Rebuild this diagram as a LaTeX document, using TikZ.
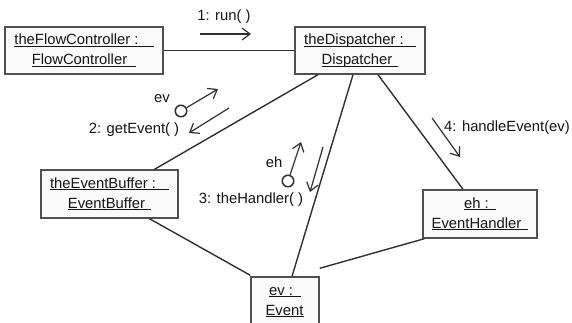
\documentclass[tikz,border=0pt]{standalone}
\usepackage{fontspec}
\setmainfont{Liberation Sans}
\usetikzlibrary{arrows.meta}
\definecolor{linegray}{HTML}{303030}
\definecolor{boxline}{HTML}{505050}
\definecolor{boxfill}{HTML}{FAFAFA}
\definecolor{inkgray}{HTML}{151515}
% object name, underlined at the baseline with a trailing run of the given length
\newcommand\objline[2][7pt]{\underline{\smash{#2}\vphantom{T}\hspace{#1}}}
\begin{document}
\begin{tikzpicture}[x=1pt,y=-1pt,
  obj/.style={draw=boxline, fill=boxfill, line width=1.4pt, inner sep=0pt,
    align=center, text=inkgray, font=\fontsize{14.8}{20}\selectfont},
  link/.style={draw=linegray, line width=1.4pt},
  msg/.style={draw=linegray, line width=1.2pt, -{Straight Barb[length=8pt,width=12pt]}},
  lbl/.style={text=inkgray, font=\fontsize{14.8}{16}\selectfont, inner sep=0pt},
  port/.style={circle, draw=linegray, line width=1.5pt, minimum size=11.5pt, inner sep=0pt}]
\clip (0,0) rectangle (572,322);
\fill[white] (0,0) rectangle (572,322);

% objects
\node[obj, minimum width=158pt, minimum height=47pt] (flow) at (84,50.5)
  {\objline[15pt]{theFlowController :}\\\objline[9pt]{FlowController}};
\node[obj, minimum width=130pt, minimum height=47pt] (disp) at (360,50.5)
  {\objline[12pt]{theDispatcher :}\\\objline[6pt]{Dispatcher}};
\node[obj, minimum width=137pt, minimum height=48pt] (buf) at (109.5,194)
  {\objline[13pt]{theEventBuffer :}\\\objline[6pt]{EventBuffer}};
\node[obj, minimum width=114pt, minimum height=48pt] (hand) at (480,214)
  {\objline[7pt]{eh :}\\\objline[7pt]{EventHandler}};
\node[obj, minimum width=68pt, minimum height=48pt] (ev) at (285,301)
  {\objline[8pt]{ev :}\\\objline[1pt]{Event}};

% links
\draw[link] (flow.east) -- (disp.west |- flow.east);
\draw[link] ([xshift=-42pt]disp.south) -- ([xshift=45pt]buf.north);
\draw[link] ([xshift=-7pt]disp.south) -- ([xshift=7pt]ev.north);
\draw[link] ([xshift=18pt]disp.south) -- ([xshift=-17pt]hand.north);
\draw[link] ([xshift=40pt]buf.south) -- ([yshift=1pt]ev.north west);
\draw[link] ([yshift=8pt]ev.north east) -- ([xshift=2pt]hand.south west);

% messages
\coordinate (runA) at (200,34);
\coordinate (runB) at (251,34);
\draw[msg] (runA) -- (runB);
\node[lbl] (runlbl) at (224,17) {1: run( )};

\node[port] (evport) at (181,111) {};
\coordinate (evtip) at (218,89);
\draw[msg] (evport) -- (evtip);
\node[lbl] (evlbl) at (162,99) {ev};
\coordinate (getA) at (229,108);
\coordinate (getB) at (189,133);
\draw[msg] (getA) -- (getB);
\node[lbl] (getlbl) at (134,130) {2: getEvent( )};

\node[port] (ehport) at (288,181) {};
\coordinate (ehtip) at (301,142);
\draw[msg] (ehport) -- (ehtip);
\node[lbl] (ehlbl) at (274,162) {eh};
\coordinate (thA) at (323,147);
\coordinate (thB) at (310,192);
\draw[msg] (thA) -- (thB);
\node[lbl] (thlbl) at (251,200) {3: theHandler( )};

\coordinate (heA) at (432,118);
\coordinate (heB) at (460,157);
\draw[msg] (heA) -- (heB);
\node[lbl] (helbl) at (507,128) {4: handleEvent(ev)};
\end{tikzpicture}
\end{document}
